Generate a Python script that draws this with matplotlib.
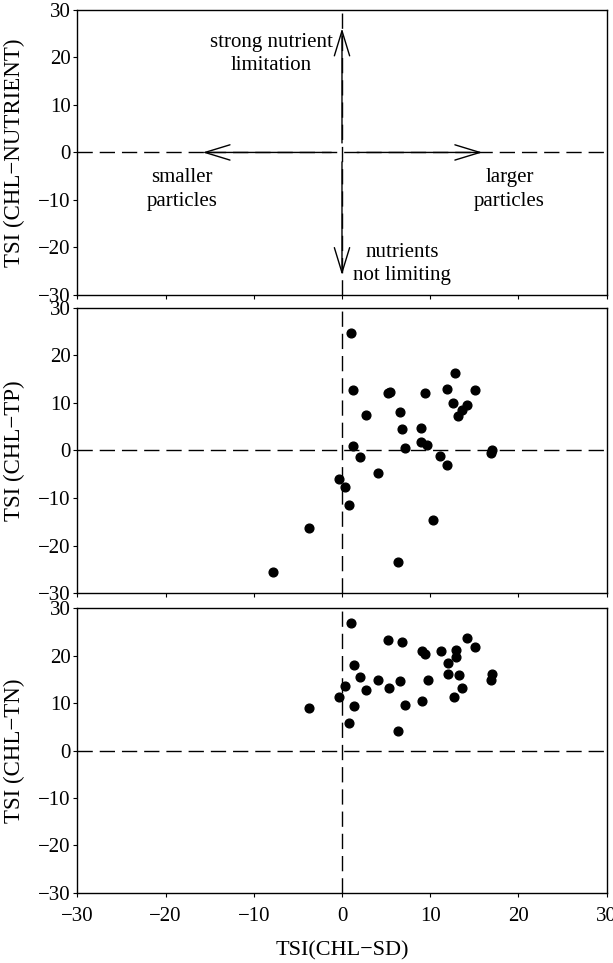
import matplotlib
matplotlib.use("Agg")
import matplotlib.pyplot as plt
from matplotlib.patches import FancyArrowPatch

plt.rcParams['font.family'] = ['Liberation Serif', 'DejaVu Serif']
plt.rcParams['axes.linewidth'] = 1.0

# ---- data ----
tp_x = [0.98, 1.29, 5.19, 5.40, 9.37, 11.94, 12.83, 15.05, 12.60, 13.14, 13.58, 14.16,
        2.71, 6.52, 6.75, 9.01, 1.29, 7.19, 9.01, 9.63, 2.04, 11.14, 11.94, 16.95, 16.87,
        4.08, -0.36, 0.31, 0.84, 10.30, -3.77, 6.30, -7.81]
tp_y = [24.6, 12.7, 12.0, 12.3, 12.0, 13.0, 16.3, 12.8, 10.0, 7.2, 8.5, 9.5,
        7.5, 8.1, 4.5, 4.7, 0.9, 0.6, 1.7, 1.2, -1.4, -1.1, -3.0, 0.2, -0.5,
        -4.8, -5.9, -7.6, -11.5, -14.6, -16.3, -23.5, -25.6]

tn_x = [1.02, 5.19, 6.79, 14.16, 15.09, 9.05, 9.37, 11.19, 12.92, 12.92, 11.98, 1.33,
        11.98, 13.23, 17.04, 16.91, 2.04, 4.08, 6.57, 9.72, 0.31, 5.37, 2.71, 13.58,
        -0.36, 12.65, 9.05, -3.77, 1.33, 7.19, 0.84, 6.30]
tn_y = [27.0, 23.3, 22.9, 23.7, 21.8, 21.1, 20.4, 21.1, 21.2, 19.7, 18.5, 18.0,
        16.2, 16.0, 16.1, 14.8, 15.5, 14.9, 14.7, 14.9, 13.7, 13.1, 12.8, 13.1,
        11.3, 11.2, 10.4, 8.9, 9.3, 9.5, 5.9, 4.2]

ticks = [-30, -20, -10, 0, 10, 20, 30]
ylabels = ["TSI (CHL\u2212NUTRIENT)", "TSI (CHL\u2212TP)", "TSI (CHL\u2212TN)"]
xlabel = "TSI(CHL\u2212SD)"

# ---- figure ----
fig = plt.figure(figsize=(6.13, 9.63), dpi=100)
left, width = 0.1261, 0.8636
positions = [(0.6937, 0.2960), (0.3839, 0.2966), (0.0730, 0.2953)]
axes = []
for (b, h), yl in zip(positions, ylabels):
    ax = fig.add_axes([left, b, width, h])
    ax.set_xlim(-30, 30)
    ax.set_ylim(-30, 30)
    ax.set_xticks(ticks)
    ax.set_yticks(ticks)
    ax.tick_params(axis='both', direction='out', length=3.2, width=0.8,
                   labelsize=15, color='black')
    ax.tick_params(axis='y', pad=1.5)
    ax.tick_params(axis='x', pad=7)
    ax.axhline(0, color='black', lw=1.0, dashes=(11, 5), zorder=1)
    ax.axvline(0, color='black', lw=1.0, dashes=(11, 5), zorder=1)
    ax.set_ylabel(yl, fontsize=16.5)
    ax.yaxis.set_label_coords(-0.098, 0.5)
    axes.append(ax)

axes[0].tick_params(axis='x', labelbottom=False)
axes[1].tick_params(axis='x', labelbottom=False)

axes[2].set_xlabel(xlabel, fontsize=16)
axes[2].xaxis.set_label_coords(0.5, -0.172)

# scatter
axes[1].plot(tp_x, tp_y, 'o', color='black', markersize=6.3, zorder=3)
axes[2].plot(tn_x, tn_y, 'o', color='black', markersize=6.3, zorder=3)

# top panel arrows and texts
ax0 = axes[0]
astyle = '->,head_length=1.8,head_width=0.55'
for (p0, p1) in [((0, 2.0), (0, 26.1)), ((0, -2.0), (0, -25.8)),
                 ((-1.2, 0), (-15.8, 0)), ((1.7, 0), (15.9, 0))]:
    arr = FancyArrowPatch(p0, p1, arrowstyle=astyle, mutation_scale=10,
                          color='black', lw=1.0, shrinkA=0, shrinkB=0)
    ax0.add_patch(arr)

tkw = dict(fontsize=15, ha='center', va='center', multialignment='center',
           linespacing=1.3)
ax0.text(-8.0, 20.7, "strong nutrient\nlimitation", **tkw)
ax0.text(-18.1, -7.8, "smaller\nparticles", **tkw)
ax0.text(19.0, -7.8, "larger\nparticles", **tkw)
ax0.text(6.8, -23.5, "nutrients\nnot limiting", **tkw)

fig.savefig("out.png", dpi=100)
